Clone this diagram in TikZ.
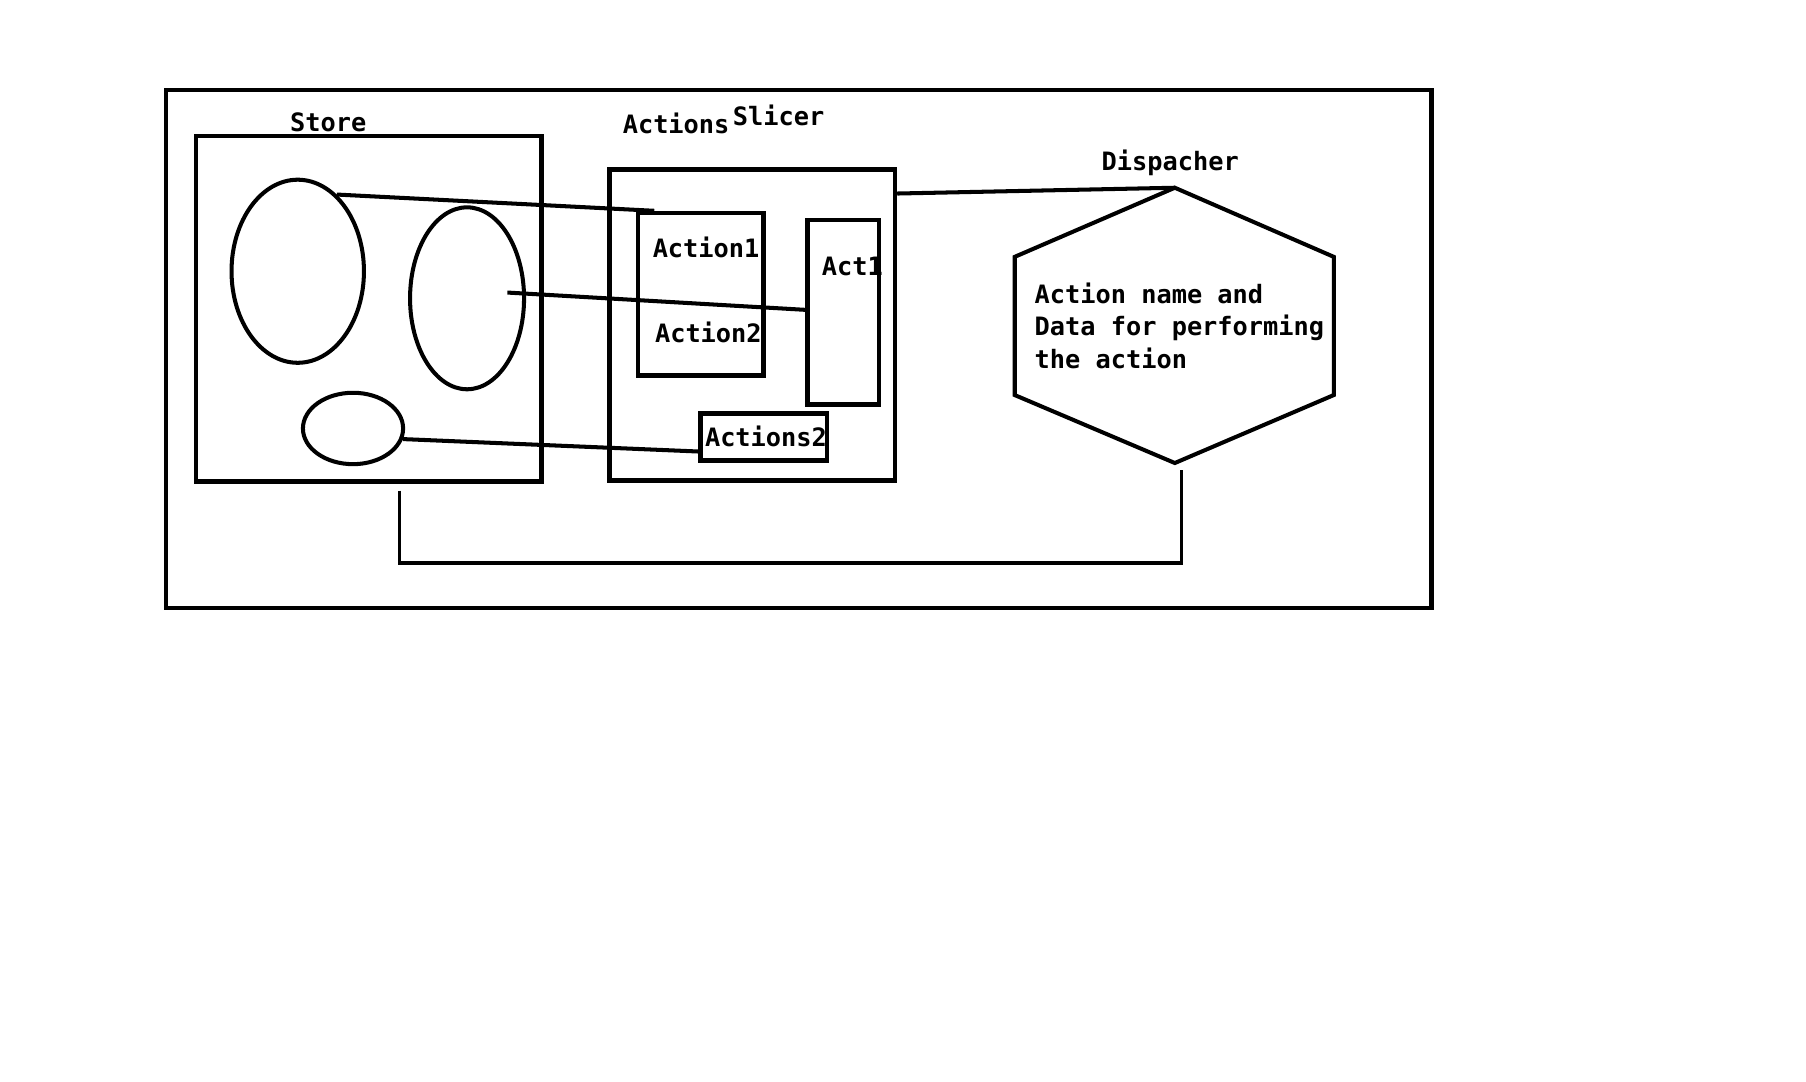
\documentclass[tikz,border=0pt]{standalone}
\usepackage{fontspec}
\setmonofont{DejaVu Sans Mono}
\usepackage{xcolor}
\definecolor{cInk}{HTML}{000000}
\usetikzlibrary{positioning,shapes.geometric,calc}
\tikzset{
  node-box/.style={draw=cInk,line width=0.08cm,inner sep=0pt},
  node-oval/.style={draw=cInk,line width=0.07cm,ellipse,inner sep=0pt},
  node-label/.style={font=\fontsize{12.5}{16.2}\selectfont\ttfamily\bfseries,
    inner sep=0pt,anchor=base},
  link/.style={draw=cInk,line width=0.07cm},
  link-thin/.style={draw=cInk,line width=0.06cm},
}
\begin{document}
\begin{tikzpicture}[x=0.02cm,y=-0.02cm]
  \useasboundingbox (0,0) rectangle (1568,939);
  \draw[node-box] (144,78) rectangle (1243,528);

  % Store with its three parts
  \node[node-box,minimum width=6cm,minimum height=6cm] (store) at (320,268) {};
  \node[node-label] (store-lbl) at (285,114) {Store};
  \node[node-oval,minimum width=2.3cm,minimum height=3.18cm] (ell1) at (258.5,235.5) {};
  \node[node-oval,minimum width=1.98cm,minimum height=3.16cm] (ell2) at (405.5,259) {};
  \node[node-oval,minimum width=1.74cm,minimum height=1.24cm] (ell3) at (306.5,372) {};

  % Slicer with the actions
  \node[node-box,minimum width=4.96cm,minimum height=5.4cm] (slicer) at (653,282) {};
  \node[node-label] (actions-lbl) at (587,116) {Actions};
  \node[node-label] (slicer-lbl) at (676,109) {Slicer};
  \node[node-box,minimum width=2.18cm,minimum height=2.82cm] (acts) at (608.5,255.5) {};
  \node[node-label] (action1) at (613,224) {Action1};
  \node[node-label] (action2) at (615,297) {Action2};
  \node[node-box,minimum width=1.24cm,minimum height=3.2cm] (act1) at (732,271) {};
  \node[node-label] (act1-lbl) at (740,239) {Act1};
  \node[node-box,minimum width=2.2cm,minimum height=0.82cm] (actions2) at (663,379.5) {};
  \node[node-label] (actions2-lbl) at (665,388) {Actions2};

  % Dispacher
  \coordinate (hex-top) at (1020,163);
  \coordinate (hex-ur) at (1158,223);
  \coordinate (hex-lr) at (1158,343);
  \coordinate (hex-bot) at (1020,402);
  \coordinate (hex-ll) at (881,343);
  \coordinate (hex-ul) at (881,223);
  \draw[link,line join=miter] (hex-top) -- (hex-ur) -- (hex-lr) -- (hex-bot)
    -- (hex-ll) -- (hex-ul) -- cycle;
  \node[node-label] (disp-lbl) at (1016,148) {Dispacher};
  \node[node-label,anchor=north west,align=left] (disp-txt) at (898,245)
    {Action name and\\Data for performing\\the action};

  % connectors
  \draw[link] (ell1.63) -- ($(acts.north west)+(16,0)$);
  \draw[link] ($(ell2.center)+(35,-5)$) -- ($(act1.west)+(0,-2)$);
  \draw[link] (ell3.-12) -- ($(actions2.south west)+(0,-10)$);
  \draw[link] ($(slicer.north east)+(0,23)$) -- (hex-top);
  \coordinate (store-out) at ($(store.south)+(27,6)$);
  \coordinate (disp-out) at ($(hex-bot)+(6,6)$);
  \draw[link-thin] (store-out) -- ++(0,63) -| (disp-out);
\end{tikzpicture}
\end{document}
